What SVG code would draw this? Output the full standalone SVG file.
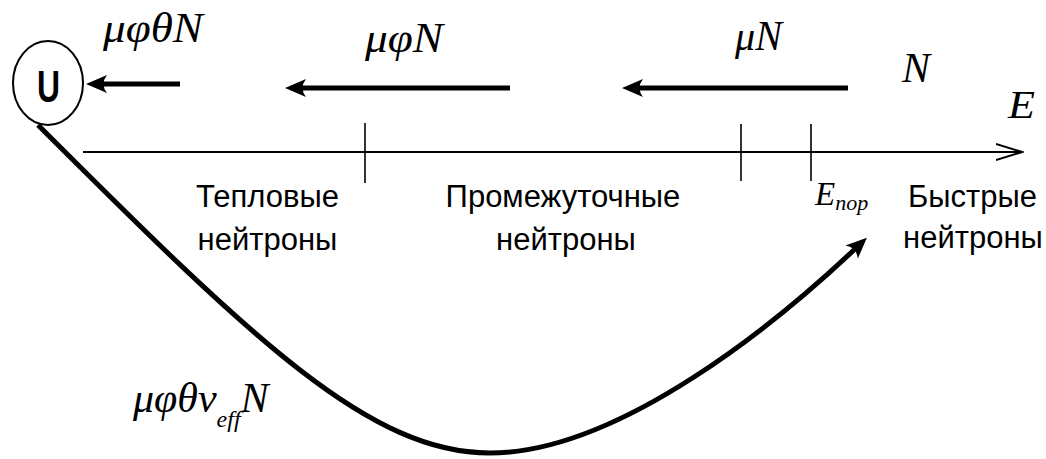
<svg xmlns="http://www.w3.org/2000/svg" width="1046" height="459" viewBox="0 0 1046 459">
<style>
.math{font-family:"Liberation Serif","Times New Roman",serif;font-style:italic;fill:#000}
.lbl{font-family:"Liberation Sans",Arial,sans-serif;font-size:31px;fill:#000;text-anchor:middle}
.thick{stroke:#000;stroke-width:5;fill:none;stroke-linecap:butt}
.thin{stroke:#000;stroke-width:2;fill:none}
.tick{stroke:#000;stroke-width:1.6}
</style>
<defs>
<marker id="head" markerUnits="userSpaceOnUse" viewBox="0 -10 22 20" refX="6" refY="0" markerWidth="22" markerHeight="20" orient="auto">
<path d="M21,0 L0,-9 Q7,0 0,9 Z" fill="#000"/>
</marker>
<marker id="open" markerUnits="userSpaceOnUse" viewBox="0 -10 28 20" refX="26" refY="0" markerWidth="28" markerHeight="20" orient="auto">
<path d="M0,-8 L26,0 L0,8" fill="none" stroke="#000" stroke-width="2"/>
</marker>
</defs>
<g id="node-U">
<ellipse cx="48" cy="83" rx="35" ry="42" fill="#fff" stroke="#000" stroke-width="2"/>
<text x="48.5" y="102" font-family="Liberation Sans,Arial,sans-serif" font-weight="bold" font-size="44" text-anchor="middle" textLength="23" lengthAdjust="spacingAndGlyphs">U</text>
</g>
<g id="axis">
<line class="thin" x1="83" y1="152" x2="1022" y2="152" marker-end="url(#open)"/>
<line class="tick" x1="365" y1="123" x2="365" y2="183"/>
<line class="tick" x1="741" y1="124" x2="741" y2="181"/>
<line class="tick" x1="811" y1="124" x2="811" y2="181"/>
<text class="math" x="1008" y="118" font-size="40" textLength="27" lengthAdjust="spacingAndGlyphs">E</text>
<text class="math" x="815" y="205" font-size="33">E<tspan font-size="22" dy="5">пор</tspan></text>
</g>
<g id="regions">
<text class="lbl" x="267.5" y="207">Тепловые</text>
<text class="lbl" x="267.5" y="250">нейтроны</text>
<text class="lbl" x="563" y="207">Промежуточные</text>
<text class="lbl" x="566" y="250">нейтроны</text>
<text class="lbl" x="972.5" y="207">Быстрые</text>
<text class="lbl" x="973" y="248">нейтроны</text>
</g>
<g id="connectors">
<line class="thick" x1="180" y1="84" x2="101" y2="84" marker-end="url(#head)"/>
<line class="thick" x1="510" y1="88" x2="300" y2="88" marker-end="url(#head)"/>
<line class="thick" x1="848" y1="88" x2="637" y2="88" marker-end="url(#head)"/>
<path class="thick" d="M38,125 C254,341 370,453 490,453 C620,453 780,320 856,248" marker-end="url(#head)"/>
</g>
<g id="labels">
<text class="math" x="103" y="42" font-size="42" textLength="100" lengthAdjust="spacingAndGlyphs">μφθN</text>
<text class="math" x="365" y="52" font-size="42" textLength="78" lengthAdjust="spacingAndGlyphs">μφN</text>
<text class="math" x="735" y="50" font-size="42" textLength="47" lengthAdjust="spacingAndGlyphs">μN</text>
<text class="math" x="902" y="82" font-size="42">N</text>
<text class="math" x="133" y="412" font-size="42">μφθν<tspan font-size="24" dy="15">eff</tspan><tspan dy="-15">N</tspan></text>
</g>
</svg>
